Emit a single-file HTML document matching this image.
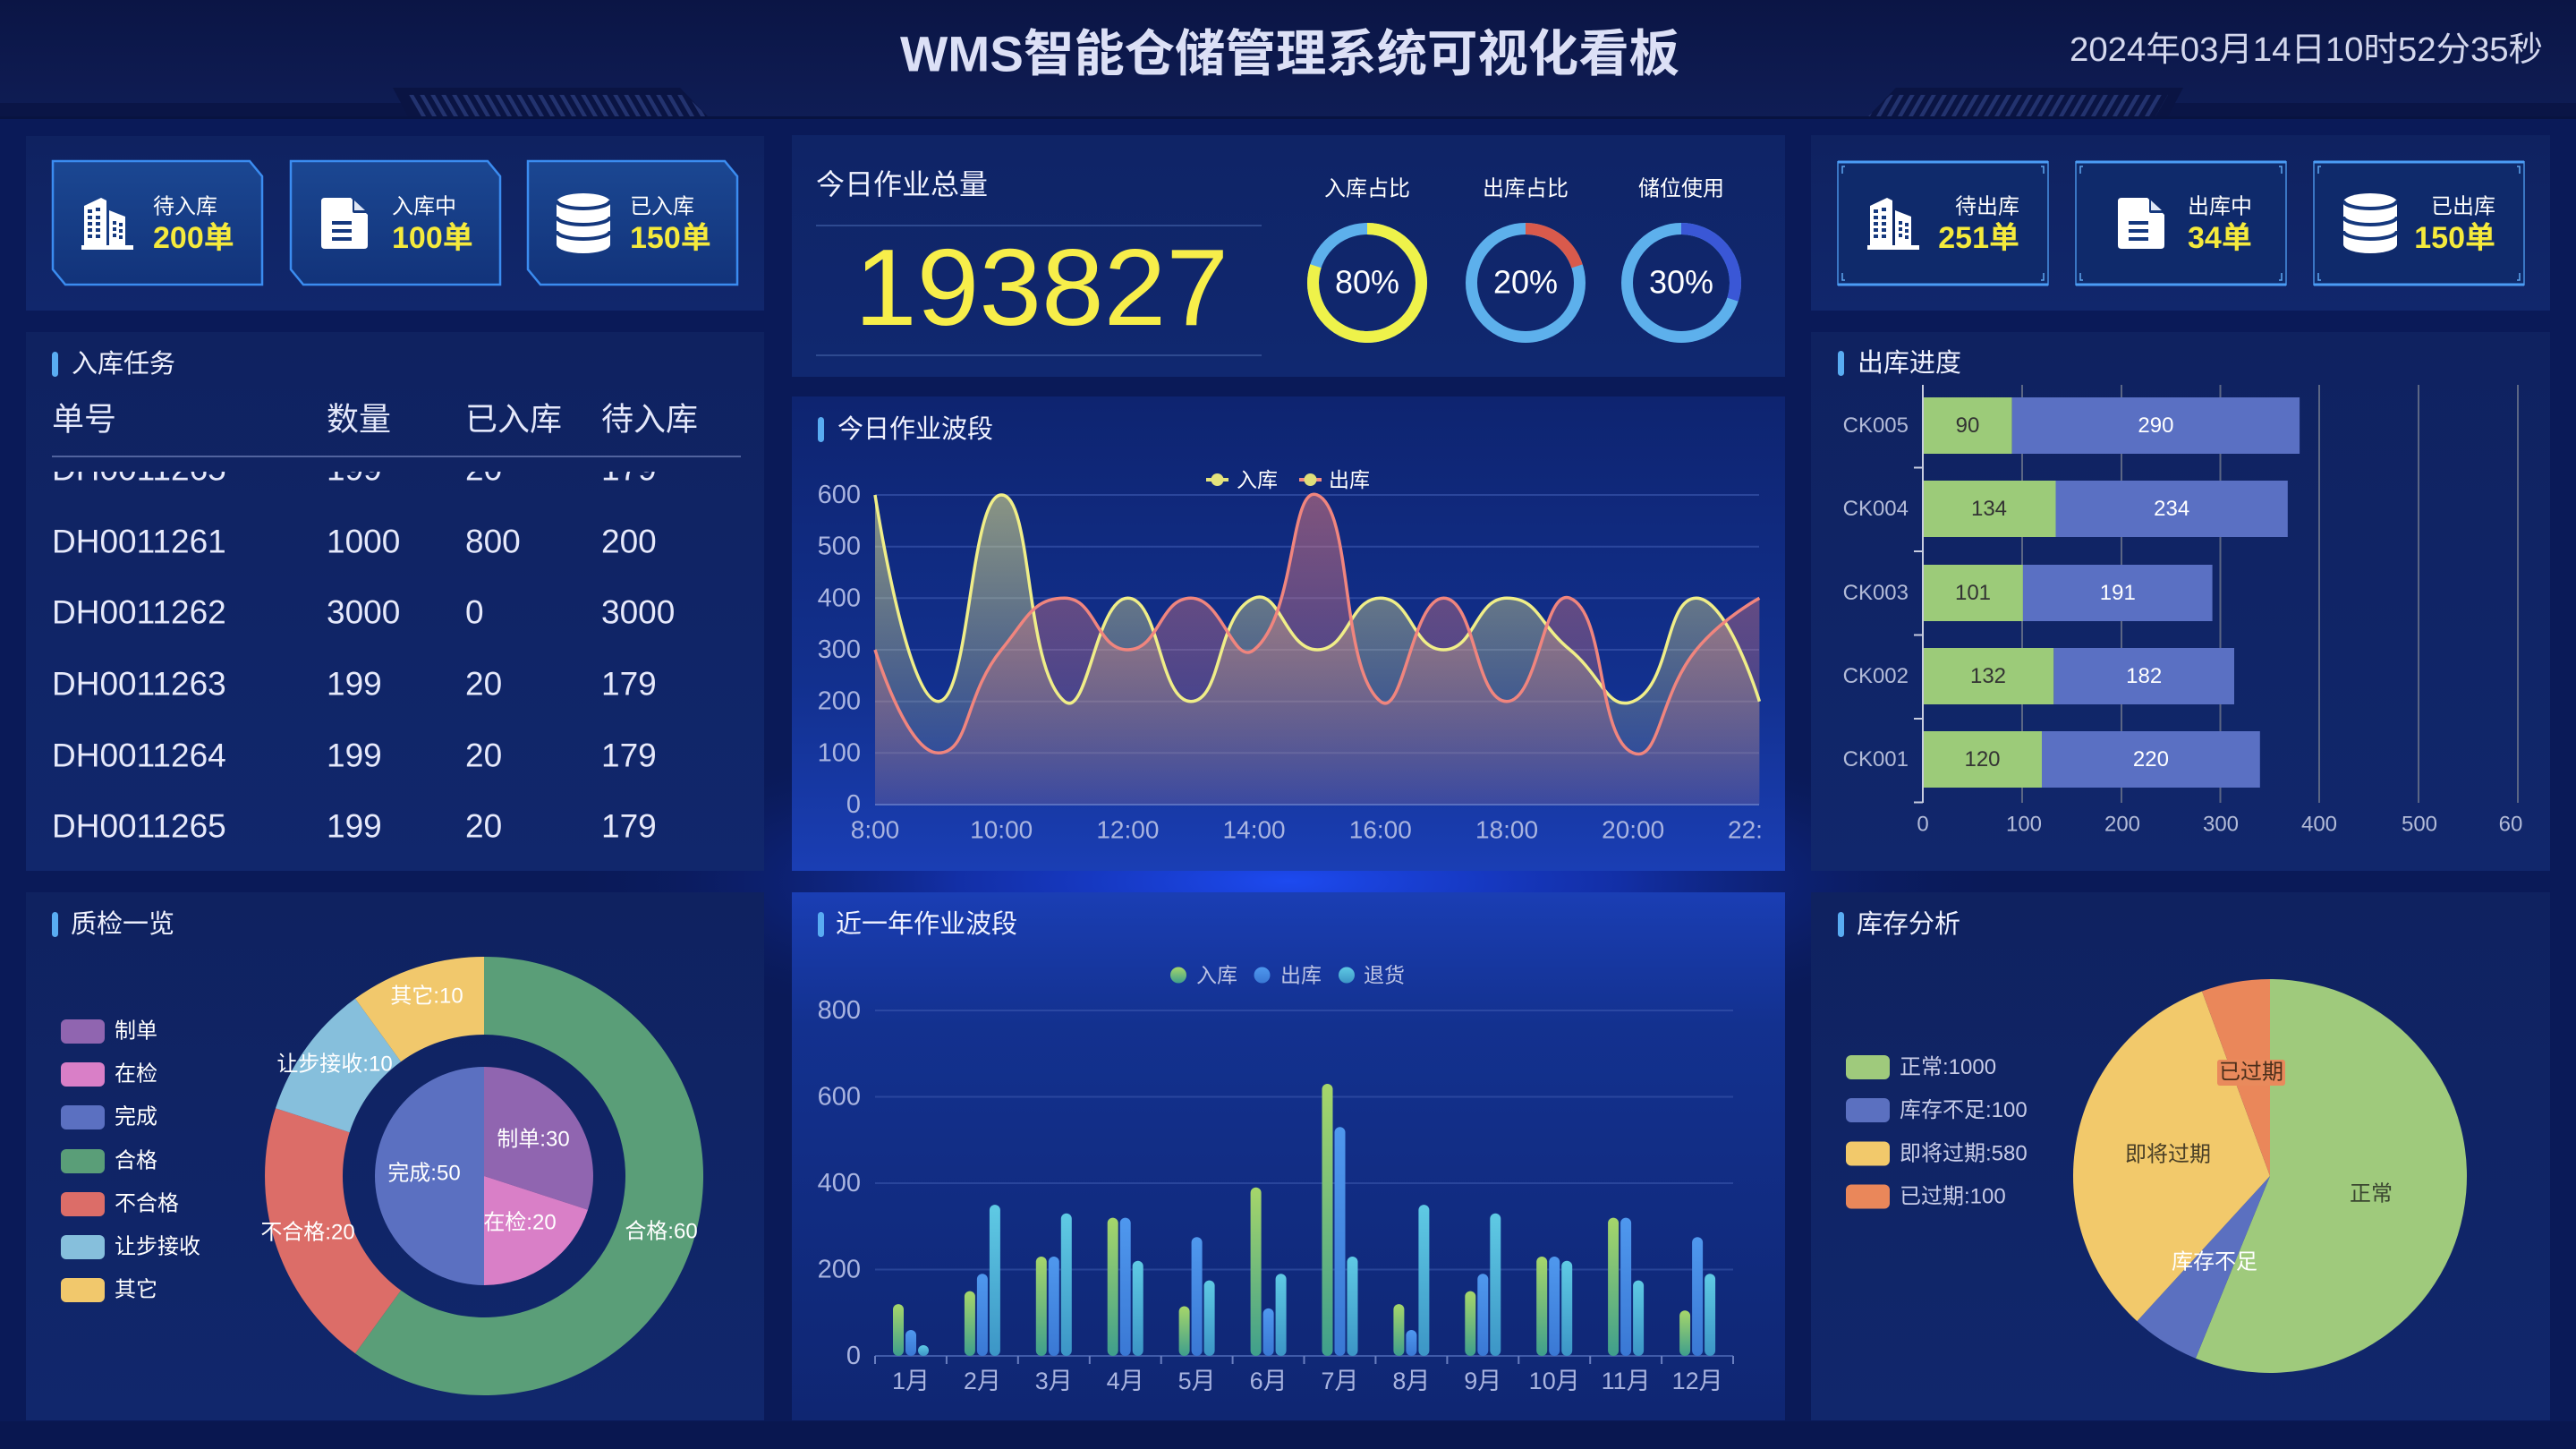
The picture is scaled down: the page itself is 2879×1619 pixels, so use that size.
<!DOCTYPE html>
<html><head><meta charset="utf-8">
<style>
html,body{margin:0;padding:0;width:2879px;height:1619px;overflow:hidden;background:#0a1a58;}
svg{display:block}
text{font-family:'Liberation Sans','Noto Sans CJK SC',sans-serif;}
</style></head><body>
<svg width="2879" height="1619" viewBox="0 0 2879 1619" xmlns="http://www.w3.org/2000/svg">
<defs>
 <linearGradient id="hdr" x1="0" y1="0" x2="0" y2="1"><stop offset="0" stop-color="#0b1545"/><stop offset="1" stop-color="#0f1d55"/></linearGradient>
 <radialGradient id="glow" cx="0.5" cy="0.5" r="0.5"><stop offset="0" stop-color="#1d4af0"/><stop offset="0.45" stop-color="#1638c8" stop-opacity="0.7"/><stop offset="1" stop-color="#0a1a5a" stop-opacity="0"/></radialGradient>
 <linearGradient id="pL" x1="0" y1="0" x2="0" y2="1"><stop offset="0" stop-color="#0f2260"/><stop offset="1" stop-color="#11276c"/></linearGradient>
 <linearGradient id="pTC" x1="0" y1="0" x2="0" y2="1"><stop offset="0" stop-color="#0f2466"/><stop offset="1" stop-color="#102870"/></linearGradient>
 <linearGradient id="pMC" x1="0" y1="0" x2="0" y2="1"><stop offset="0" stop-color="#0e2470"/><stop offset="0.6" stop-color="#12308e"/><stop offset="1" stop-color="#1a3eb4"/></linearGradient>
 <linearGradient id="pBC" x1="0" y1="0" x2="0" y2="1"><stop offset="0" stop-color="#1a3eb4"/><stop offset="0.25" stop-color="#13318f"/><stop offset="1" stop-color="#0f2672"/></linearGradient>
 <linearGradient id="cardL" x1="0" y1="0" x2="0" y2="1"><stop offset="0" stop-color="#1b4792"/><stop offset="1" stop-color="#12337a"/></linearGradient>
 <linearGradient id="gIn" x1="0" y1="0" x2="0" y2="1"><stop offset="0" stop-color="#a6d66a"/><stop offset="1" stop-color="#3f9f8c"/></linearGradient>
 <linearGradient id="gOut" x1="0" y1="0" x2="0" y2="1"><stop offset="0" stop-color="#4f98ee"/><stop offset="1" stop-color="#3a78d4"/></linearGradient>
 <linearGradient id="gRet" x1="0" y1="0" x2="0" y2="1"><stop offset="0" stop-color="#5fcae4"/><stop offset="1" stop-color="#3c95c6"/></linearGradient>
 <linearGradient id="aY" x1="0" y1="0" x2="0" y2="1"><stop offset="0" stop-color="#eeee8c" stop-opacity="0.55"/><stop offset="1" stop-color="#eeee8c" stop-opacity="0.05"/></linearGradient>
 <linearGradient id="aP" x1="0" y1="0" x2="0" y2="1"><stop offset="0" stop-color="#f08080" stop-opacity="0.5"/><stop offset="1" stop-color="#f08080" stop-opacity="0.12"/></linearGradient>
 <pattern id="hatchL" width="12" height="30" patternUnits="userSpaceOnUse" patternTransform="skewX(30)"><rect width="5" height="30" fill="#23336f"/></pattern>
 <pattern id="hatchR" width="12" height="30" patternUnits="userSpaceOnUse" patternTransform="skewX(-30)"><rect width="5" height="30" fill="#23336f"/></pattern>
 <clipPath id="tblClip"><rect x="29" y="527" width="825" height="446"/></clipPath>
 <clipPath id="lineClip"><rect x="885" y="443" width="1083" height="530"/></clipPath>
 <symbol id="bld" viewBox="0 0 58 58">
  <path d="M3 9 L22 0 L28 3 L28 53 L3 53 Z M31 14 L49 21 L49 53 L31 53 Z M0 53 H58 V58 H0 Z" fill="#fff"/>
  <g fill="#16397e">
   <rect x="7" y="13" width="5" height="4"/><rect x="16" y="11" width="5" height="4"/>
   <rect x="7" y="20" width="5" height="4"/><rect x="16" y="20" width="5" height="4"/>
   <rect x="7" y="27" width="5" height="4"/><rect x="16" y="27" width="5" height="4"/>
   <rect x="7" y="34" width="5" height="4"/><rect x="16" y="34" width="5" height="4"/>
   <rect x="7" y="41" width="5" height="4"/><rect x="16" y="41" width="5" height="4"/>
   <rect x="35" y="26" width="4" height="4"/><rect x="42" y="28" width="4" height="4"/>
   <rect x="35" y="33" width="4" height="4"/><rect x="42" y="35" width="4" height="4"/>
   <rect x="35" y="40" width="4" height="4"/><rect x="42" y="42" width="4" height="4"/>
  </g>
 </symbol>
 <symbol id="doc" viewBox="0 0 52 57">
  <path d="M4 0 H33 L52 19 V53 Q52 57 48 57 H4 Q0 57 0 53 V4 Q0 0 4 0 Z" fill="#fff"/>
  <path d="M35 1 V15 Q35 17 37 17 H51 Z" fill="#16397e"/>
  <path d="M37 3 V14 H49 Z" fill="#dfe6f5"/>
  <g fill="#16397e"><rect x="12" y="26" width="22" height="4"/><rect x="12" y="35" width="22" height="4"/><rect x="12" y="44" width="22" height="4"/></g>
 </symbol>
 <symbol id="db" viewBox="0 0 60 67">
  <ellipse cx="30" cy="10" rx="30" ry="10" fill="#fff"/>
  <rect x="0" y="10" width="60" height="47" fill="#fff"/>
  <ellipse cx="30" cy="57" rx="30" ry="10" fill="#fff"/>
  <path d="M0 8 A30 9 0 0 0 60 8 M0 26 A30 9 0 0 0 60 26 M0 42 A30 9 0 0 0 60 42" fill="none" stroke="#16397e" stroke-width="4"/>
 </symbol>
</defs>

<!-- background -->
<rect x="0" y="0" width="2879" height="1619" fill="#0a1a58"/>
<ellipse cx="1440" cy="985" rx="820" ry="190" fill="url(#glow)"/>
<rect x="0" y="1588" width="2879" height="31" fill="#091750"/>

<!-- header -->
<rect x="0" y="0" width="2879" height="130" fill="url(#hdr)"/>
<rect x="0" y="115" width="456" height="15" fill="#0a1546"/>
<polygon points="439,98 760,98 791,130 456,130" fill="#0a1443"/>
<polygon points="456,106 766,106 791,130 470,130" fill="url(#hatchL)"/>
<rect x="2423" y="115" width="456" height="15" fill="#0a1546"/>
<polygon points="2440,98 2119,98 2088,130 2423,130" fill="#0a1443"/>
<polygon points="2423,106 2113,106 2088,130 2409,130" fill="url(#hatchR)"/>
<rect x="0" y="130" width="2879" height="3" fill="#081340"/>
<text x="1006" y="60" font-size="56" font-weight="bold" fill="#dce0f6" dominant-baseline="central" textLength="871" lengthAdjust="spacingAndGlyphs">WMS智能仓储管理系统可视化看板</text>
<text x="2313" y="56" font-size="38" fill="#d4d8ee" dominant-baseline="central" textLength="529" lengthAdjust="spacingAndGlyphs">2024年03月14日10时52分35秒</text>

<!-- panels -->
<rect x="29" y="152" width="825" height="195" fill="url(#pL)"/>
<rect x="29" y="371" width="825" height="602" fill="url(#pL)"/>
<rect x="29" y="997" width="825" height="590" fill="url(#pL)"/>
<rect x="885" y="151" width="1110" height="270" fill="url(#pTC)"/>
<rect x="885" y="443" width="1110" height="530" fill="url(#pMC)"/>
<rect x="885" y="997" width="1110" height="590" fill="url(#pBC)"/>
<rect x="2024" y="151" width="826" height="196" fill="url(#pL)"/>
<rect x="2024" y="371" width="826" height="602" fill="url(#pL)"/>
<rect x="2024" y="997" width="826" height="590" fill="url(#pL)"/>

<!-- left top cards -->
<g stroke="#3b8cf0" stroke-width="2.5" fill="url(#cardL)">
 <polygon points="59,180 279,180 293,197 293,318 73,318 59,301"/>
 <polygon points="325,180 545,180 559,197 559,318 339,318 325,301"/>
 <polygon points="590,180 810,180 824,197 824,318 604,318 590,301"/>
</g>
<use href="#bld" x="91" y="221" width="58" height="58"/>
<use href="#doc" x="359" y="221" width="52" height="57"/>
<use href="#db" x="622" y="216" width="60" height="67"/>
<g dominant-baseline="central">
<text x="171" y="231" font-size="24" fill="#fff">待入库</text>
<text x="171" y="266" font-size="34" font-weight="bold" fill="#f5ea3c">200单</text>
<text x="438" y="231" font-size="24" fill="#fff">入库中</text>
<text x="438" y="266" font-size="34" font-weight="bold" fill="#f5ea3c">100单</text>
<text x="704" y="231" font-size="24" fill="#fff">已入库</text>
<text x="704" y="266" font-size="34" font-weight="bold" fill="#f5ea3c">150单</text>
</g>

<!-- right top cards -->
<g fill="#0f2a6b" stroke="#3a76c4" stroke-width="2">
 <rect x="2054" y="181" width="235" height="137"/>
 <rect x="2320" y="181" width="235" height="137"/>
 <rect x="2586" y="181" width="235" height="137"/>
</g>
<g stroke="#4b9cf5" stroke-width="3">
 <line x1="2054" y1="181" x2="2289" y2="181"/><line x1="2320" y1="181" x2="2555" y2="181"/><line x1="2586" y1="181" x2="2821" y2="181"/>
 <line x1="2054" y1="318" x2="2289" y2="318"/><line x1="2320" y1="318" x2="2555" y2="318"/><line x1="2586" y1="318" x2="2821" y2="318"/>
</g>
<g fill="none" stroke="#5fa6f0" stroke-width="1.5">
 <path d="M2059 194 v-8 h3 M2284 194 v-8 h-3 M2059 305 v8 h3 M2284 305 v8 h-3"/>
 <path d="M2325 194 v-8 h3 M2550 194 v-8 h-3 M2325 305 v8 h3 M2550 305 v8 h-3"/>
 <path d="M2591 194 v-8 h3 M2816 194 v-8 h-3 M2591 305 v8 h3 M2816 305 v8 h-3"/>
</g>
<use href="#bld" x="2087" y="221" width="58" height="58"/>
<use href="#doc" x="2367" y="221" width="52" height="57"/>
<use href="#db" x="2619" y="216" width="60" height="67"/>
<g dominant-baseline="central">
<text x="2257" y="231" font-size="24" fill="#fff" text-anchor="end">待出库</text>
<text x="2257" y="266" font-size="34" font-weight="bold" fill="#f5ea3c" text-anchor="end">251单</text>
<text x="2445" y="231" font-size="24" fill="#fff">出库中</text>
<text x="2445" y="266" font-size="34" font-weight="bold" fill="#f5ea3c">34单</text>
<text x="2789" y="231" font-size="24" fill="#fff" text-anchor="end">已出库</text>
<text x="2789" y="266" font-size="34" font-weight="bold" fill="#f5ea3c" text-anchor="end">150单</text>
</g>

<!-- top center -->
<text x="912" y="206" font-size="32" fill="#f0f2ff" dominant-baseline="central">今日作业总量</text>
<line x1="912" y1="252" x2="1410" y2="252" stroke="#2e4a90" stroke-width="2"/>
<line x1="912" y1="397" x2="1410" y2="397" stroke="#2e4a90" stroke-width="2"/>
<text x="955" y="363" font-size="122" fill="#f7ee4a" textLength="418" lengthAdjust="spacingAndGlyphs">193827</text>
<g font-size="24" fill="#fff" text-anchor="middle" dominant-baseline="central">
 <text x="1528" y="211">入库占比</text><text x="1705" y="211">出库占比</text><text x="1879" y="211">储位使用</text>
</g>
<g fill="none" stroke-width="13">
 <circle cx="1528" cy="316" r="60.5" stroke="#5db0ec"/>
 <circle cx="1528" cy="316" r="60.5" stroke="#eef24a" stroke-dasharray="304.1 400" transform="rotate(-90 1528 316)"/>
 <circle cx="1705" cy="316" r="60.5" stroke="#5db0ec"/>
 <circle cx="1705" cy="316" r="60.5" stroke="#d95a4c" stroke-dasharray="76 400" transform="rotate(-90 1705 316)"/>
 <circle cx="1879" cy="316" r="60.5" stroke="#5db0ec"/>
 <circle cx="1879" cy="316" r="60.5" stroke="#3a57d6" stroke-dasharray="114 400" transform="rotate(-90 1879 316)"/>
</g>
<g font-size="36" fill="#fff" text-anchor="middle" dominant-baseline="central">
 <text x="1528" y="315">80%</text><text x="1705" y="315">20%</text><text x="1879" y="315">30%</text>
</g>

<!-- panel titles -->
<g fill="#59acf2">
 <rect x="58" y="393" width="7" height="28" rx="3.5"/>
 <rect x="914" y="466" width="7" height="28" rx="3.5"/>
 <rect x="2054" y="392" width="7" height="28" rx="3.5"/>
 <rect x="58" y="1019" width="7" height="28" rx="3.5"/>
 <rect x="914" y="1019" width="7" height="28" rx="3.5"/>
 <rect x="2054" y="1019" width="7" height="28" rx="3.5"/>
</g>
<g font-size="29" fill="#f0f2ff" dominant-baseline="central">
 <text x="80" y="407">入库任务</text>
 <text x="936" y="480">今日作业波段</text>
 <text x="2076" y="406">出库进度</text>
 <text x="79" y="1033">质检一览</text>
 <text x="934" y="1033">近一年作业波段</text>
 <text x="2075" y="1033">库存分析</text>
</g>

<!-- table -->
<g font-size="36" fill="#e3e7fa" dominant-baseline="central">
 <text x="58" y="468">单号</text><text x="365" y="468">数量</text><text x="520" y="468">已入库</text><text x="672" y="468">待入库</text>
</g>
<line x1="58" y1="510" x2="828" y2="510" stroke="#51639e" stroke-width="2"/>
<g font-size="37" fill="#e6e9fb" dominant-baseline="central" clip-path="url(#tblClip)">
 <text x="58" y="524">DH0011265</text><text x="365" y="524">199</text><text x="520" y="524">20</text><text x="672" y="524">179</text>
 <text x="58" y="605">DH0011261</text><text x="365" y="605">1000</text><text x="520" y="605">800</text><text x="672" y="605">200</text>
 <text x="58" y="684">DH0011262</text><text x="365" y="684">3000</text><text x="520" y="684">0</text><text x="672" y="684">3000</text>
 <text x="58" y="764">DH0011263</text><text x="365" y="764">199</text><text x="520" y="764">20</text><text x="672" y="764">179</text>
 <text x="58" y="844">DH0011264</text><text x="365" y="844">199</text><text x="520" y="844">20</text><text x="672" y="844">179</text>
 <text x="58" y="923">DH0011265</text><text x="365" y="923">199</text><text x="520" y="923">20</text><text x="672" y="923">179</text>
</g>

<!-- line chart -->
<g stroke="#3d5ab0" stroke-opacity="0.6" stroke-width="2">
 <line x1="978" y1="553" x2="1966" y2="553"/><line x1="978" y1="610.7" x2="1966" y2="610.7"/>
 <line x1="978" y1="668.3" x2="1966" y2="668.3"/><line x1="978" y1="726" x2="1966" y2="726"/>
 <line x1="978" y1="783.7" x2="1966" y2="783.7"/><line x1="978" y1="841.3" x2="1966" y2="841.3"/>
</g>
<g clip-path="url(#lineClip)">
<path d="M978,553 C978,553 1013.3,783.7 1048.6,783.7 C1083.9,783.7 1083.9,553 1119.2,553 C1154.5,553 1144.6,746.8 1189.8,783.7 C1215.2,804.4 1225.1,668.3 1260.4,668.3 C1295.7,668.3 1295.7,783.7 1331,783.7 C1366.3,783.7 1359.4,685.5 1401.6,668.3 C1430,656.7 1436.9,726 1472.2,726 C1507.5,726 1507.5,668.3 1542.8,668.3 C1578.1,668.3 1578.1,726 1613.4,726 C1648.7,726 1648.7,668.3 1684,668.3 C1719.3,668.3 1719.3,697.2 1754.6,726 C1789.9,754.9 1796.8,795.3 1825.2,783.7 C1867.4,766.5 1860.5,668.3 1895.8,668.3 C1931.1,668.3 1966.4,783.7 1966.4,783.7 L1966.4,899 L978,899 Z" fill="url(#aY)"/>
<path d="M978,726 C978,726 1013.3,841.3 1048.6,841.3 C1083.9,841.3 1077,777.7 1119.2,726 C1147.6,691.2 1154.5,668.3 1189.8,668.3 C1225.1,668.3 1225.1,726 1260.4,726 C1295.7,726 1295.7,668.3 1331,668.3 C1366.3,668.3 1378.4,744.9 1401.6,726 C1449,687.3 1441.4,540.4 1472.2,553 C1512,569.3 1497.6,746.8 1542.8,783.7 C1568.2,804.4 1578.1,668.3 1613.4,668.3 C1648.7,668.3 1648.7,783.7 1684,783.7 C1719.3,783.7 1725,656.2 1754.6,668.3 C1795.6,685 1784.2,824.6 1825.2,841.3 C1854.8,853.4 1853.6,777.7 1895.8,726 C1924.2,691.2 1966.4,668.3 1966.4,668.3 L1966.4,899 L978,899 Z" fill="url(#aP)"/>
<path d="M978,553 C978,553 1013.3,783.7 1048.6,783.7 C1083.9,783.7 1083.9,553 1119.2,553 C1154.5,553 1144.6,746.8 1189.8,783.7 C1215.2,804.4 1225.1,668.3 1260.4,668.3 C1295.7,668.3 1295.7,783.7 1331,783.7 C1366.3,783.7 1359.4,685.5 1401.6,668.3 C1430,656.7 1436.9,726 1472.2,726 C1507.5,726 1507.5,668.3 1542.8,668.3 C1578.1,668.3 1578.1,726 1613.4,726 C1648.7,726 1648.7,668.3 1684,668.3 C1719.3,668.3 1719.3,697.2 1754.6,726 C1789.9,754.9 1796.8,795.3 1825.2,783.7 C1867.4,766.5 1860.5,668.3 1895.8,668.3 C1931.1,668.3 1966.4,783.7 1966.4,783.7" fill="none" stroke="#f0ee88" stroke-width="3.5"/>
<path d="M978,726 C978,726 1013.3,841.3 1048.6,841.3 C1083.9,841.3 1077,777.7 1119.2,726 C1147.6,691.2 1154.5,668.3 1189.8,668.3 C1225.1,668.3 1225.1,726 1260.4,726 C1295.7,726 1295.7,668.3 1331,668.3 C1366.3,668.3 1378.4,744.9 1401.6,726 C1449,687.3 1441.4,540.4 1472.2,553 C1512,569.3 1497.6,746.8 1542.8,783.7 C1568.2,804.4 1578.1,668.3 1613.4,668.3 C1648.7,668.3 1648.7,783.7 1684,783.7 C1719.3,783.7 1725,656.2 1754.6,668.3 C1795.6,685 1784.2,824.6 1825.2,841.3 C1854.8,853.4 1853.6,777.7 1895.8,726 C1924.2,691.2 1966.4,668.3 1966.4,668.3" fill="none" stroke="#f0857e" stroke-width="3.5"/>
</g>
<line x1="978" y1="899" x2="1966" y2="899" stroke="#5a70c0" stroke-width="2"/>
<g font-size="29" fill="#a9b4e0" text-anchor="end" dominant-baseline="central">
 <text x="962" y="553">600</text><text x="962" y="610.7">500</text><text x="962" y="668.3">400</text><text x="962" y="726">300</text><text x="962" y="783.7">200</text><text x="962" y="841.3">100</text><text x="962" y="899">0</text>
</g>
<g font-size="28" fill="#a9b4e0" text-anchor="middle" dominant-baseline="central">
 <text x="978" y="927">8:00</text><text x="1119.2" y="927">10:00</text><text x="1260.4" y="927">12:00</text><text x="1401.6" y="927">14:00</text><text x="1542.8" y="927">16:00</text><text x="1684" y="927">18:00</text><text x="1825.2" y="927">20:00</text>
</g>
<text x="1931" y="927" font-size="28" fill="#a9b4e0" dominant-baseline="central">22:</text>
<line x1="1348" y1="536" x2="1373" y2="536" stroke="#e4e37c" stroke-width="4"/>
<circle cx="1360.5" cy="536" r="7" fill="#e4e37c"/>
<line x1="1452" y1="536" x2="1477" y2="536" stroke="#f08a80" stroke-width="4"/>
<circle cx="1464.5" cy="536" r="7" fill="#dede7a"/>
<g font-size="23" fill="#fff" dominant-baseline="central">
 <text x="1382" y="536">入库</text><text x="1485" y="536">出库</text>
</g>

<!-- 出库进度 bar chart -->
<g stroke="#5b6684" stroke-width="2">
 <line x1="2260" y1="430" x2="2260" y2="897"/><line x1="2371" y1="430" x2="2371" y2="897"/><line x1="2481.5" y1="430" x2="2481.5" y2="897"/>
 <line x1="2592" y1="430" x2="2592" y2="897"/><line x1="2703" y1="430" x2="2703" y2="897"/><line x1="2814" y1="430" x2="2814" y2="897"/>
</g>
<g fill="#9ccb79">
 <rect x="2149" y="444" width="99.7" height="63"/>
 <rect x="2149" y="537" width="148.5" height="63"/>
 <rect x="2149" y="631" width="111.9" height="63"/>
 <rect x="2149" y="724" width="146.3" height="63"/>
 <rect x="2149" y="817" width="133" height="63"/>
</g>
<g fill="#5a70c3">
 <rect x="2248.7" y="444" width="321.4" height="63"/>
 <rect x="2297.5" y="537" width="259.3" height="63"/>
 <rect x="2260.9" y="631" width="211.7" height="63"/>
 <rect x="2295.3" y="724" width="201.7" height="63"/>
 <rect x="2282" y="817" width="243.8" height="63"/>
</g>
<line x1="2149" y1="430" x2="2149" y2="897" stroke="#c8cde0" stroke-width="2"/>
<path d="M2139 522.5 H2149 M2139 616 H2149 M2139 709.5 H2149 M2139 803 H2149 M2139 896.5 H2149" stroke="#c8cde0" stroke-width="2"/>
<g font-size="24" dominant-baseline="central" text-anchor="middle">
 <g fill="#333">
  <text x="2199" y="475.5">90</text><text x="2223" y="568.5">134</text><text x="2205" y="662.5">101</text><text x="2222" y="755.5">132</text><text x="2215.5" y="848.5">120</text>
 </g>
 <g fill="#fff">
  <text x="2409.4" y="475.5">290</text><text x="2427.2" y="568.5">234</text><text x="2366.8" y="662.5">191</text><text x="2396.2" y="755.5">182</text><text x="2403.9" y="848.5">220</text>
 </g>
</g>
<g font-size="24" fill="#b3bbd8" dominant-baseline="central" text-anchor="end">
 <text x="2133" y="475.5">CK005</text><text x="2133" y="568.5">CK004</text><text x="2133" y="662.5">CK003</text><text x="2133" y="755.5">CK002</text><text x="2133" y="848.5">CK001</text>
</g>
<g font-size="24" fill="#b3bbd8" dominant-baseline="central" text-anchor="middle">
 <text x="2149" y="921">0</text><text x="2262" y="921">100</text><text x="2372" y="921">200</text><text x="2482" y="921">300</text><text x="2592" y="921">400</text><text x="2704" y="921">500</text><text x="2806" y="921">60</text>
</g>

<!-- 质检一览 donut -->
<path d="M541,1069 A245,245 0 1 1 397.0,1512.2 L448.1,1441.8 A158,158 0 1 0 541,1156 Z" fill="#5a9e78"/>
<path d="M397.0,1512.2 A245,245 0 0 1 308.0,1238.3 L390.7,1265.2 A158,158 0 0 0 448.1,1441.8 Z" fill="#dc6d68"/>
<path d="M308.0,1238.3 A245,245 0 0 1 397.0,1115.8 L448.1,1186.2 A158,158 0 0 0 390.7,1265.2 Z" fill="#86bfdc"/>
<path d="M397.0,1115.8 A245,245 0 0 1 541,1069 L541,1156 A158,158 0 0 0 448.1,1186.2 Z" fill="#f1c86c"/>
<path d="M541,1314 L541,1192 A122,122 0 0 1 657.0,1351.7 Z" fill="#9065b0"/>
<path d="M541,1314 L657.0,1351.7 A122,122 0 0 1 541,1436 Z" fill="#d97fc7"/>
<path d="M541,1314 L541,1436 A122,122 0 0 1 541,1192 Z" fill="#5b70c1"/>
<g font-size="24" fill="#fff" text-anchor="middle" dominant-baseline="central">
 <text x="477" y="1113">其它:10</text><text x="374" y="1189">让步接收:10</text><text x="344" y="1377">不合格:20</text><text x="739" y="1376">合格:60</text>
 <text x="596" y="1273">制单:30</text><text x="474" y="1311">完成:50</text><text x="581" y="1366">在检:20</text>
</g>
<g>
 <rect x="68" y="1139" width="49" height="27" rx="6" fill="#9065b0"/>
 <rect x="68" y="1187" width="49" height="27" rx="6" fill="#d97fc7"/>
 <rect x="68" y="1235" width="49" height="27" rx="6" fill="#5b70c1"/>
 <rect x="68" y="1284" width="49" height="27" rx="6" fill="#5a9e78"/>
 <rect x="68" y="1332" width="49" height="27" rx="6" fill="#dc6d68"/>
 <rect x="68" y="1380" width="49" height="27" rx="6" fill="#86bfdc"/>
 <rect x="68" y="1428" width="49" height="27" rx="6" fill="#f1c86c"/>
</g>
<g font-size="24" fill="#fff" dominant-baseline="central">
 <text x="128" y="1152">制单</text><text x="128" y="1200">在检</text><text x="128" y="1248">完成</text><text x="128" y="1297">合格</text><text x="128" y="1345">不合格</text><text x="128" y="1393">让步接收</text><text x="128" y="1441">其它</text>
</g>

<!-- 近一年作业波段 -->
<g stroke="#4664b8" stroke-opacity="0.45" stroke-width="2">
 <line x1="978" y1="1129" x2="1937" y2="1129"/><line x1="978" y1="1225.5" x2="1937" y2="1225.5"/><line x1="978" y1="1322" x2="1937" y2="1322"/><line x1="978" y1="1418.5" x2="1937" y2="1418.5"/>
</g>
<line x1="978" y1="1515" x2="1937" y2="1515" stroke="#3f5aa8" stroke-width="2"/>
<path d="M978 1515 v9 M1057.9 1515 v9 M1137.8 1515 v9 M1217.8 1515 v9 M1297.7 1515 v9 M1377.6 1515 v9 M1457.5 1515 v9 M1537.4 1515 v9 M1617.4 1515 v9 M1697.3 1515 v9 M1777.2 1515 v9 M1857.1 1515 v9 M1937 1515 v9" stroke="#6a7fc0" stroke-width="2"/>
<g fill="url(#gIn)">
 <rect x="998" y="1457.1" width="12" height="57.9" rx="6"/>
 <rect x="1077.9" y="1442.6" width="12" height="72.4" rx="6"/>
 <rect x="1157.8" y="1404" width="12" height="111" rx="6"/>
 <rect x="1237.7" y="1360.6" width="12" height="154.4" rx="6"/>
 <rect x="1317.6" y="1459.5" width="12" height="55.5" rx="6"/>
 <rect x="1397.6" y="1326.8" width="12" height="188.2" rx="6"/>
 <rect x="1477.5" y="1211" width="12" height="304" rx="6"/>
 <rect x="1557.4" y="1457.1" width="12" height="57.9" rx="6"/>
 <rect x="1637.3" y="1442.6" width="12" height="72.4" rx="6"/>
 <rect x="1717.2" y="1404" width="12" height="111" rx="6"/>
 <rect x="1797.1" y="1360.6" width="12" height="154.4" rx="6"/>
 <rect x="1877.1" y="1464.3" width="12" height="50.7" rx="6"/>
</g>
<g fill="url(#gOut)">
 <rect x="1012" y="1486" width="12" height="29" rx="6"/>
 <rect x="1091.9" y="1423.3" width="12" height="91.7" rx="6"/>
 <rect x="1171.8" y="1404" width="12" height="111" rx="6"/>
 <rect x="1251.7" y="1360.6" width="12" height="154.4" rx="6"/>
 <rect x="1331.6" y="1382.3" width="12" height="132.7" rx="6"/>
 <rect x="1411.6" y="1461.9" width="12" height="53.1" rx="6"/>
 <rect x="1491.5" y="1259.3" width="12" height="255.7" rx="6"/>
 <rect x="1571.4" y="1486" width="12" height="29" rx="6"/>
 <rect x="1651.3" y="1423.3" width="12" height="91.7" rx="6"/>
 <rect x="1731.2" y="1404" width="12" height="111" rx="6"/>
 <rect x="1811.1" y="1360.6" width="12" height="154.4" rx="6"/>
 <rect x="1891.1" y="1382.3" width="12" height="132.7" rx="6"/>
</g>
<g fill="url(#gRet)">
 <rect x="1026" y="1503" width="12" height="12" rx="6"/>
 <rect x="1105.9" y="1346.1" width="12" height="168.9" rx="6"/>
 <rect x="1185.8" y="1355.8" width="12" height="159.2" rx="6"/>
 <rect x="1265.7" y="1408.8" width="12" height="106.2" rx="6"/>
 <rect x="1345.6" y="1430.6" width="12" height="84.4" rx="6"/>
 <rect x="1425.6" y="1423.3" width="12" height="91.7" rx="6"/>
 <rect x="1505.5" y="1404" width="12" height="111" rx="6"/>
 <rect x="1585.4" y="1346.1" width="12" height="168.9" rx="6"/>
 <rect x="1665.3" y="1355.8" width="12" height="159.2" rx="6"/>
 <rect x="1745.2" y="1408.8" width="12" height="106.2" rx="6"/>
 <rect x="1825.1" y="1430.6" width="12" height="84.4" rx="6"/>
 <rect x="1905.1" y="1423.3" width="12" height="91.7" rx="6"/>
</g>
<g font-size="29" fill="#a9b4e0" text-anchor="end" dominant-baseline="central">
 <text x="962" y="1129">800</text><text x="962" y="1225.5">600</text><text x="962" y="1322">400</text><text x="962" y="1418.5">200</text><text x="962" y="1515">0</text>
</g>
<g font-size="27" fill="#a9b4e0" text-anchor="middle" dominant-baseline="central">
 <text x="1018" y="1543">1月</text><text x="1097.9" y="1543">2月</text><text x="1177.8" y="1543">3月</text><text x="1257.7" y="1543">4月</text><text x="1337.6" y="1543">5月</text><text x="1417.6" y="1543">6月</text>
 <text x="1497.5" y="1543">7月</text><text x="1577.4" y="1543">8月</text><text x="1657.3" y="1543">9月</text><text x="1737.2" y="1543">10月</text><text x="1817.1" y="1543">11月</text><text x="1897.1" y="1543">12月</text>
</g>
<circle cx="1317" cy="1089.5" r="9" fill="url(#gIn)"/>
<circle cx="1410.5" cy="1089.5" r="9" fill="url(#gOut)"/>
<circle cx="1505" cy="1089.5" r="9" fill="url(#gRet)"/>
<g font-size="23" fill="#bcc3e4" dominant-baseline="central">
 <text x="1337" y="1089.5">入库</text><text x="1431" y="1089.5">出库</text><text x="1524" y="1089.5">退货</text>
</g>

<!-- 库存分析 pie -->
<path d="M2537,1314 L2537,1094 A220,220 0 1 1 2453.9,1517.7 Z" fill="#9fca7c"/>
<path d="M2537,1314 L2453.9,1517.7 A220,220 0 0 1 2388.4,1476.2 Z" fill="#5b70c0"/>
<path d="M2537,1314 L2388.4,1476.2 A220,220 0 0 1 2461.0,1107.5 Z" fill="#f2c96b"/>
<path d="M2537,1314 L2461.0,1107.5 A220,220 0 0 1 2537,1094 Z" fill="#ea875a"/>
<rect x="2478" y="1184" width="76" height="29" rx="3" fill="#e98a5c"/>
<g font-size="24" text-anchor="middle" dominant-baseline="central">
 <text x="2516" y="1198" fill="#4a2e1a">已过期</text>
 <text x="2423" y="1290" fill="#4a3f26">即将过期</text>
 <text x="2650" y="1334" fill="#3a4630">正常</text>
 <text x="2475" y="1410" fill="#fff">库存不足</text>
</g>
<rect x="2063" y="1179" width="49" height="27" rx="6" fill="#9fca7c"/>
<rect x="2063" y="1227" width="49" height="27" rx="6" fill="#5b70c0"/>
<rect x="2063" y="1275.5" width="49" height="27" rx="6" fill="#f2c96b"/>
<rect x="2063" y="1323.5" width="49" height="27" rx="6" fill="#ea875a"/>
<g font-size="24" fill="#c8cce8" dominant-baseline="central">
 <text x="2123" y="1192.5">正常:1000</text><text x="2123" y="1240.6">库存不足:100</text><text x="2123" y="1289">即将过期:580</text><text x="2123" y="1337">已过期:100</text>
</g>
</svg>
</body></html>
